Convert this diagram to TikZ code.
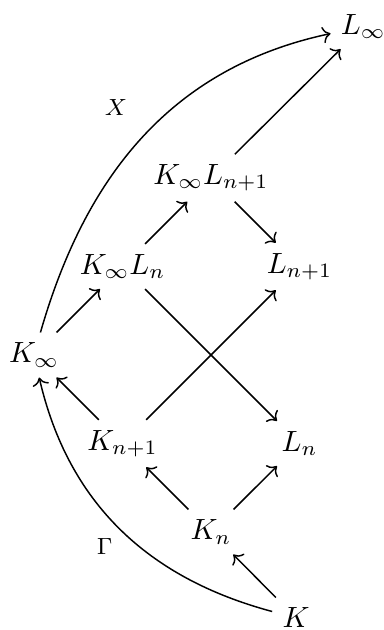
\documentclass[tikz,border=0pt]{standalone}
\usepackage{amsmath, amssymb}
\usetikzlibrary{arrows.meta}

\begin{document}
\begin{tikzpicture}[
  x=1.063cm, y=1.063cm,
  map/.style={-{To}, line width=0.5pt},
  lab/.style={font=\footnotesize}
]
\useasboundingbox (-0.384,-3.107) rectangle (3.944,4.011);

\node (Kinf) at (0,0) {$K_\infty$};
\node (KLn) at (1,1) {$K_\infty L_n$};
\node (KLn1) at (2,2) {$K_\infty L_{n+1}$};
\node (Ln1) at (3,1) {$L_{n+1}$};
\node (Kn1) at (1,-1) {$K_{n+1}$};
\node (Ln) at (3,-1) {$L_n$};
\node (Kn) at (2,-2) {$K_n$};
\node (K) at (2.96,-2.97) {$K$};
\node (Linf) at (3.72,3.71) {$L_\infty$};

\draw[map] (Kinf) -- (KLn);
\draw[map] (KLn) -- (KLn1);
\draw[map] (KLn1) -- (Linf);
\draw[map] (KLn1) -- (Ln1);
\draw[map] (KLn) -- (Ln);
\draw[map] (Kn1) -- (Ln1);
\draw[map] (Kn1) -- (Kinf);
\draw[map] (Kn) -- (Kn1);
\draw[map] (Kn) -- (Ln);
\draw[map] (K) -- (Kn);

% the two long maps
\draw[map] (Kinf) to[out=74, in=192] node[lab, pos=0.53, anchor=south east, inner sep=4pt, xshift=-4pt] {$X$} (Linf);
\draw[map] (K) to[out=165, in=-77] node[lab, pos=0.42, anchor=east, inner sep=9pt] {$\Gamma$} (Kinf);
\end{tikzpicture}
\end{document}
